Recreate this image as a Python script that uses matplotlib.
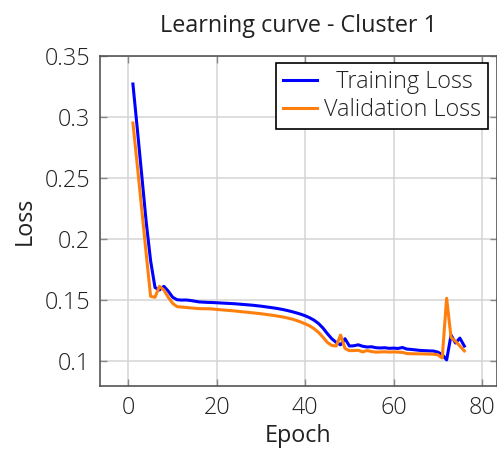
import matplotlib
matplotlib.use("Agg")
import matplotlib.pyplot as plt

epochs = list(range(1, 77))

train_loss = [
    0.327, 0.290, 0.252, 0.214, 0.182, 0.160, 0.158, 0.161, 0.157, 0.152,
    0.1500, 0.1497, 0.1498, 0.1494, 0.1488, 0.1482, 0.1480, 0.1478, 0.1477, 0.1475,
    0.1473, 0.1471, 0.1469, 0.1467, 0.1464, 0.1461, 0.1458, 0.1455, 0.1451, 0.1447,
    0.1442, 0.1437, 0.1432, 0.1426, 0.1419, 0.1411, 0.1402, 0.1392, 0.1381, 0.1368,
    0.1352, 0.1332, 0.1305, 0.1268, 0.1222, 0.1180, 0.1150, 0.1130, 0.1180, 0.1120,
    0.1122, 0.1130, 0.1118, 0.1112, 0.1114, 0.1106, 0.1104, 0.1106, 0.1101, 0.1103,
    0.1100, 0.1108, 0.1095, 0.1092, 0.1088, 0.1084, 0.1082, 0.1080, 0.1079, 0.1070,
    0.1050, 0.1006, 0.1210, 0.1145, 0.1185, 0.1120,
]

val_loss = [
    0.295, 0.260, 0.224, 0.188, 0.1528, 0.152, 0.161, 0.158, 0.152, 0.147,
    0.1443, 0.1440, 0.1437, 0.1433, 0.1430, 0.1427, 0.1426, 0.1426, 0.1424, 0.1420,
    0.1417, 0.1414, 0.1411, 0.1408, 0.1404, 0.1400, 0.1397, 0.1393, 0.1389, 0.1385,
    0.1380, 0.1375, 0.1370, 0.1364, 0.1358, 0.1350, 0.1341, 0.1330, 0.1317, 0.1302,
    0.1285, 0.1262, 0.1232, 0.1193, 0.1150, 0.1125, 0.1120, 0.1210, 0.1100, 0.1082,
    0.1083, 0.1085, 0.1072, 0.1083, 0.1075, 0.1070, 0.1071, 0.1073, 0.1070, 0.1072,
    0.1070, 0.1068, 0.1058, 0.1057, 0.1056, 0.1056, 0.1055, 0.1054, 0.1053, 0.1048,
    0.1022, 0.1512, 0.1190, 0.1160, 0.1120, 0.1080,
]

x_ticks = [0, 20, 40, 60, 80]
x_tick_labels = ["0", "20", "40", "60", "80"]
y_ticks = [0.1, 0.15, 0.2, 0.25, 0.3, 0.35]
y_tick_labels = ["0.1", "0.15", "0.2", "0.25", "0.3", "0.35"]

plt.rcParams["font.family"] = ["Open Sans", "DejaVu Sans"]
plt.rcParams["font.weight"] = "light"
FS = 16.8

W, H = 497, 449
fig = plt.figure(figsize=(W / 100, H / 100), dpi=100)
ax = fig.add_axes([100 / W, (H - 386) / H, (W - 100) / W, (386 - 56) / H])

ax.plot(epochs, train_loss, color="#0000ff", lw=2.2, label="  Training Loss", zorder=3)
ax.plot(epochs, val_loss, color="#ff7f0e", lw=2.2, label="Validation Loss", zorder=3)

ax.set_xlim(-6.45, 83.4)
ax.set_ylim(0.0792, 0.35)
ax.set_xticks(x_ticks)
ax.set_xticklabels(x_tick_labels)
ax.set_yticks(y_ticks)
ax.set_yticklabels(y_tick_labels)

ax.grid(True, color="#d4d4d4", lw=1.1)
ax.set_axisbelow(True)
ax.tick_params(direction="in", length=5, width=1, color="#888888",
               top=True, right=True, labelsize=FS, pad=7, labelcolor="#222222")
for s in ax.spines.values():
    s.set_color("#555555")
    s.set_linewidth(1.2)

ax.set_xlabel("Epoch", fontsize=FS, color="#222222", labelpad=3)
ax.set_ylabel("Loss", fontsize=FS, color="#222222", labelpad=6)
ax.set_title("Learning curve - Cluster 1", fontsize=FS, color="#222222", pad=17)

leg = ax.legend(loc="upper right", bbox_to_anchor=(0.978, 0.978), fontsize=FS,
                frameon=True, fancybox=False, edgecolor="black", framealpha=1,
                handlelength=1.45, handletextpad=0.3, borderpad=0.3,
                labelspacing=0.15, borderaxespad=0)
leg.get_frame().set_linewidth(1.2)
for t in leg.get_texts():
    t.set_color("#222222")

fig.savefig("out.png", dpi=100)
